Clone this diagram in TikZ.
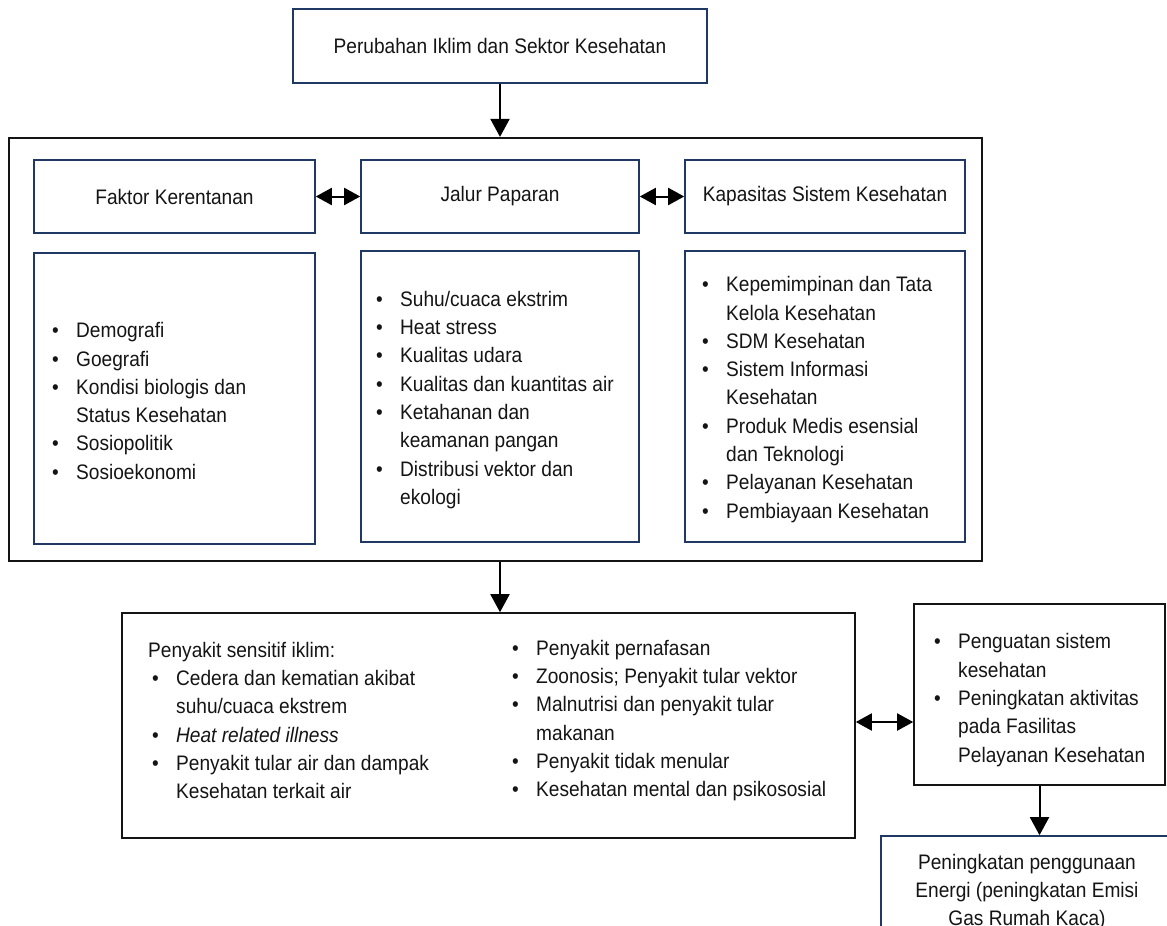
\documentclass[tikz,border=0pt]{standalone}
\usepackage{fontspec}
\setmainfont[FakeStretch=0.91]{Liberation Sans}
\usetikzlibrary{arrows.meta}
\definecolor{navy}{RGB}{31,56,100}
\definecolor{inkc}{RGB}{20,20,20}
\newcommand{\bitem}[1]{\makebox[24pt][l]{•}#1}
\newcommand{\cont}[1]{\hspace*{24pt}#1}
\begin{document}
\begin{tikzpicture}[x=1pt,y=-1pt,
  every node/.style={font=\fontsize{21}{28.3}\selectfont, inner sep=0pt, text=inkc},
  navybox/.style={draw=navy, line width=1.6pt, rectangle},
  blackbox/.style={draw=inkc, line width=1.6pt, rectangle},
  outerbox/.style={draw=inkc, line width=2.2pt, rectangle},
  listtext/.style={anchor=west, align=left},
  arr/.style={line width=2pt, -{Triangle[length=18pt,width=19pt]}},
  darr/.style={line width=2pt, {Triangle[length=16pt,width=17pt]}-{Triangle[length=16pt,width=17pt]}},
]
\useasboundingbox (0,0) rectangle (1167,926);
\clip (0,0) rectangle (1167,926);

% top box
\node[navybox, minimum width=414pt, minimum height=74pt] (top) at (500,46) {Perubahan Iklim dan Sektor Kesehatan};

% outer box
\node[outerbox, minimum width=973pt, minimum height=423pt] (outer) at (495.5,349.5) {};

% header boxes
\node[navybox, minimum width=281pt, minimum height=73pt] (fh) at (174.5,196.5) {Faktor Kerentanan};
\node[navybox, minimum width=278pt, minimum height=73pt] (jh) at (500,196.5) {Jalur Paparan};
\node[navybox, minimum width=280pt, minimum height=73pt] (kh) at (825,196.5) {Kapasitas Sistem Kesehatan};

% list boxes
\node[navybox, minimum width=281pt, minimum height=291pt] (fb) at (174.5,398.5) {};
\node[navybox, minimum width=278pt, minimum height=291pt] (jb) at (500,396.5) {};
\node[navybox, minimum width=280pt, minimum height=291pt] (kb) at (825,396.5) {};

\node[listtext] (ft) at (52,401) {\bitem{Demografi}\\\bitem{Goegrafi}\\\bitem{Kondisi biologis dan}\\\cont{Status Kesehatan}\\\bitem{Sosiopolitik}\\\bitem{Sosioekonomi}};

\node[listtext] (jt) at (376,400) {\bitem{Suhu/cuaca ekstrim}\\\bitem{Heat stress}\\\bitem{Kualitas udara}\\\bitem{Kualitas dan kuantitas air}\\\bitem{Ketahanan dan}\\\cont{keamanan pangan}\\\bitem{Distribusi vektor dan}\\\cont{ekologi}};

\node[listtext] (kt) at (702,399.5) {\bitem{Kepemimpinan dan Tata}\\\cont{Kelola Kesehatan}\\\bitem{SDM Kesehatan}\\\bitem{Sistem Informasi}\\\cont{Kesehatan}\\\bitem{Produk Medis esensial}\\\cont{dan Teknologi}\\\bitem{Pelayanan Kesehatan}\\\bitem{Pembiayaan Kesehatan}};

% penyakit box
\node[blackbox, minimum width=733pt, minimum height=225pt] (pen) at (488.5,725.5) {};
\node[listtext] (pl) at (148,720.5) {Penyakit sensitif iklim:\\\hspace*{4pt}\bitem{Cedera dan kematian akibat}\\\hspace*{28pt}suhu/cuaca ekstrem\\\hspace*{4pt}\bitem{\textit{Heat related illness}}\\\hspace*{4pt}\bitem{Penyakit tular air dan dampak}\\\hspace*{28pt}Kesehatan terkait air};
\node[listtext] (pr) at (512,720.5) {\bitem{Penyakit pernafasan}\\\bitem{Zoonosis; Penyakit tular vektor}\\\bitem{Malnutrisi dan penyakit tular}\\\cont{makanan}\\\bitem{Penyakit tidak menular}\\\bitem{Kesehatan mental dan psikososial}};

% right box
\node[blackbox, minimum width=251pt, minimum height=181pt] (rb) at (1039.5,694.5) {};
\node[listtext] (rt) at (934,700) {\bitem{Penguatan sistem}\\\cont{kesehatan}\\\bitem{Peningkatan aktivitas}\\\cont{pada Fasilitas}\\\cont{Pelayanan Kesehatan}};

% bottom box
\node[navybox, minimum width=292pt, minimum height=112pt, align=center] (bot) at (1027,892) {Peningkatan penggunaan\\Energi (peningkatan Emisi\\Gas Rumah Kaca)};

% connectors
\draw[arr] (top.south) -- (top.south |- outer.north);
\draw[darr] (fh.east) -- (jh.west);
\draw[darr] (jh.east) -- (kh.west);
\draw[arr] (top.south |- outer.south) -- (top.south |- pen.north);
\draw[darr] ([yshift=3.5pt]pen.east) -- ([yshift=3.5pt]pen.east -| rb.west);
\draw[arr] (rb.south) -- (rb.south |- bot.north);
\end{tikzpicture}
\end{document}
